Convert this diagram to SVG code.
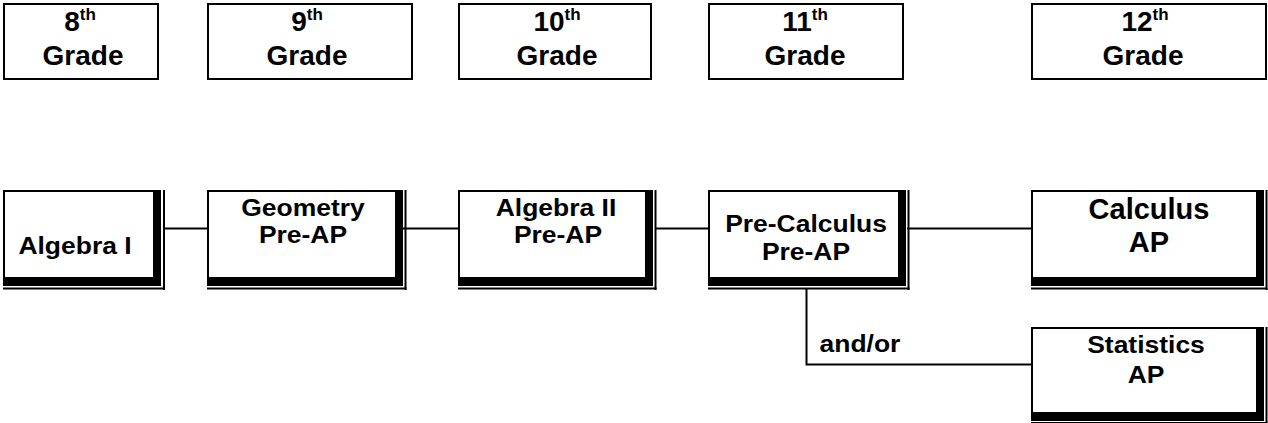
<svg xmlns="http://www.w3.org/2000/svg" width="1268" height="423" viewBox="0 0 1268 423">
<style>
  .box{fill:#fff;stroke:#000;stroke-width:2}
  .sh{fill:#000}
  .t{font-family:"Liberation Sans",Arial,sans-serif;font-weight:bold;fill:#000;text-anchor:middle}
  .g{font-size:28px}
  .c{font-size:24.5px}
  .big{font-size:29px}
  .sup{font-size:17px}
  .conn{stroke:#000;stroke-width:2;fill:none}
</style>
<rect width="1268" height="423" fill="#fff"/>
<g id="grade8">
  <rect class="box" x="4" y="4" width="154" height="75"/>
  <text class="t g" x="80" y="31">8<tspan class="sup" dy="-11">th</tspan></text>
  <text class="t g" x="83" y="65">Grade</text>
</g>
<g id="grade9">
  <rect class="box" x="208" y="4" width="204" height="75"/>
  <text class="t g" x="307" y="31">9<tspan class="sup" dy="-11">th</tspan></text>
  <text class="t g" x="307" y="65">Grade</text>
</g>
<g id="grade10">
  <rect class="box" x="459" y="4" width="192" height="75"/>
  <text class="t g" x="557" y="31">10<tspan class="sup" dy="-11">th</tspan></text>
  <text class="t g" x="557" y="65">Grade</text>
</g>
<g id="grade11">
  <rect class="box" x="709" y="4" width="194" height="75"/>
  <text class="t g" x="805" y="31">11<tspan class="sup" dy="-11">th</tspan></text>
  <text class="t g" x="805" y="65">Grade</text>
</g>
<g id="grade12">
  <rect class="box" x="1032" y="4" width="234" height="75"/>
  <text class="t g" x="1145" y="31">12<tspan class="sup" dy="-11">th</tspan></text>
  <text class="t g" x="1143" y="65">Grade</text>
</g>
<g id="connectors">
  <line class="conn" x1="163" y1="228.5" x2="208" y2="228.5"/>
  <line class="conn" x1="403" y1="228.5" x2="459" y2="228.5"/>
  <line class="conn" x1="655" y1="228.5" x2="709" y2="228.5"/>
  <line class="conn" x1="907" y1="228.5" x2="1032" y2="228.5"/>
  <polyline class="conn" points="806.5,288 806.5,364.5 1032,364.5"/>
  <text class="t c" transform="translate(860,352) scale(1.08,1)">and/or</text>
</g>
<g id="algebra1">
  <rect class="box" x="4" y="191" width="150" height="87"/>
  <rect class="sh" x="153" y="190" width="8" height="96"/>
  <rect class="sh" x="3" y="277" width="158" height="9"/>
  <rect class="sh" x="163" y="190" width="2" height="100"/>
  <rect class="sh" x="3" y="287.5" width="162" height="2"/>
  <text class="t c" transform="translate(75,254) scale(1.08,1)">Algebra I</text>
</g>
<g id="geometry">
  <rect class="box" x="208" y="191" width="188" height="87"/>
  <rect class="sh" x="395" y="190" width="8" height="96"/>
  <rect class="sh" x="207" y="277" width="196" height="9"/>
  <rect class="sh" x="404.5" y="190" width="2" height="100"/>
  <rect class="sh" x="207" y="287.5" width="199.5" height="2"/>
  <text class="t c" transform="translate(303,216) scale(1.08,1)">Geometry</text>
  <text class="t c" transform="translate(303,243) scale(1.08,1)">Pre-AP</text>
</g>
<g id="algebra2">
  <rect class="box" x="459" y="191" width="187" height="87"/>
  <rect class="sh" x="645" y="190" width="8" height="96"/>
  <rect class="sh" x="458" y="277" width="195" height="9"/>
  <rect class="sh" x="654.5" y="190" width="2" height="100"/>
  <rect class="sh" x="458" y="287.5" width="198.5" height="2"/>
  <text class="t c" transform="translate(556,216) scale(1.08,1)">Algebra II</text>
  <text class="t c" transform="translate(558,243) scale(1.08,1)">Pre-AP</text>
</g>
<g id="precalc">
  <rect class="box" x="709" y="191" width="190" height="87"/>
  <rect class="sh" x="898" y="190" width="8" height="96"/>
  <rect class="sh" x="708" y="277" width="198" height="9"/>
  <rect class="sh" x="907.5" y="190" width="2" height="100"/>
  <rect class="sh" x="708" y="287.5" width="201.5" height="2"/>
  <text class="t c" transform="translate(806,232) scale(1.08,1)">Pre-Calculus</text>
  <text class="t c" transform="translate(806,260) scale(1.08,1)">Pre-AP</text>
</g>
<g id="calculus">
  <rect class="box" x="1032" y="191" width="225" height="87"/>
  <rect class="sh" x="1256" y="190" width="8" height="96"/>
  <rect class="sh" x="1031" y="277" width="233" height="9"/>
  <rect class="sh" x="1265.5" y="190" width="2" height="100"/>
  <rect class="sh" x="1031" y="287.5" width="236.5" height="2"/>
  <text class="t big" x="1149" y="219">Calculus</text>
  <text class="t big" x="1149" y="252">AP</text>
</g>
<g id="statistics">
  <rect class="box" x="1032" y="328" width="225" height="85"/>
  <rect class="sh" x="1256" y="327" width="8" height="94"/>
  <rect class="sh" x="1031" y="412" width="233" height="9"/>
  <rect class="sh" x="1265.5" y="327" width="2" height="96"/>
  <rect class="sh" x="1031" y="422" width="236.5" height="2"/>
  <text class="t c" transform="translate(1146,353) scale(1.08,1)">Statistics</text>
  <text class="t c" transform="translate(1146,383) scale(1.08,1)">AP</text>
</g>
</svg>
